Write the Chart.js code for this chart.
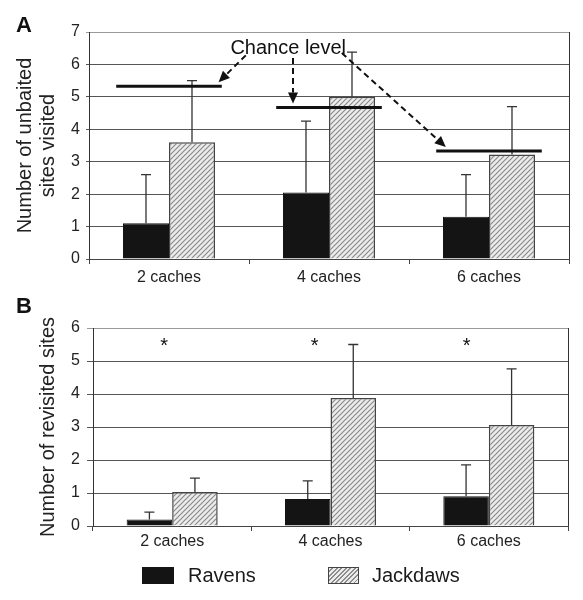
<!DOCTYPE html>
<html>
<head>
<meta charset="utf-8">
<script src="https://cdn.jsdelivr.net/npm/chart.js@4/dist/chart.umd.min.js"></script>
<style>
  body { margin: 0; background: #fff; font-family: 'Liberation Sans', Arial, sans-serif; }
  #wrap { position: relative; width: 583px; height: 600px; }
  .panel { position: absolute; left: 0; width: 583px; }
  #boxA { top: 0; height: 300px; }
  #boxB { top: 290px; height: 270px; }
  .lg { position: absolute; top: 567px; height: 17px; }
  .lgTxt { position: absolute; top: 564px; font-size: 20px; line-height: 23px; color: #1a1a1a; }
  #swR { left: 142px; width: 32px; background: #141414; }
  #swJ { left: 328px; width: 29px; height: 15px; border: 1px solid #444;
         background: repeating-linear-gradient(135deg, #ececec 0 2px, #8c8c8c 2px 3.2px); }
</style>
</head>
<body>
<div id="wrap">
  <div class="panel" id="boxA"><canvas id="chartA"></canvas></div>
  <div class="panel" id="boxB"><canvas id="chartB"></canvas></div>
  <div class="lg" id="swR"></div><div class="lgTxt" style="left:188px">Ravens</div>
  <div class="lg" id="swJ"></div><div class="lgTxt" style="left:372px">Jackdaws</div>
</div>
<script>
// --- dados ---
const categories = ['2 caches', '4 caches', '6 caches'];

// Painel A: locais sem isca visitados (média e barra de erro acima)
const ravensA = [1.1, 2.05, 1.3];
const ravensAErr = [1.5, 2.2, 1.3];
const jackdawsA = [3.6, 5.0, 3.22];
const jackdawsAErr = [1.9, 1.38, 1.48];
const chanceA = [5.33, 4.67, 3.33];

// Painel B: locais revisitados
const ravensB = [0.2, 0.82, 0.9];
const ravensBErr = [0.22, 0.55, 0.95];
const jackdawsB = [1.03, 3.88, 3.06];
const jackdawsBErr = [0.42, 1.62, 1.7];
const starsB = ['*', '*', '*'];

const yTicksA = [0, 1, 2, 3, 4, 5, 6, 7];
const yTicksB = [0, 1, 2, 3, 4, 5, 6];

const FONT = "'Liberation Sans', Arial, sans-serif";
Chart.defaults.font.family = FONT;
Chart.defaults.color = '#222';
Chart.defaults.animation = false;
Chart.defaults.maintainAspectRatio = false;

// padrão hachurado dos jackdaws
function makeHatch() {
    const c = document.createElement('canvas');
    c.width = 5; c.height = 5;
    const g = c.getContext('2d');
    g.fillStyle = '#ececec';
    g.fillRect(0, 0, 5, 5);
    g.strokeStyle = '#8a8a8a';
    g.lineWidth = 1.2;
    g.beginPath();
    g.moveTo(-1, 6); g.lineTo(6, -1);
    g.moveTo(-1, 1); g.lineTo(1, -1);
    g.moveTo(4, 6); g.lineTo(6, 4);
    g.stroke();
    return g.createPattern(c, 'repeat');
}
const hatch = makeHatch();

// barras de erro (só para cima)
const errorBars = {
    id: 'errorBars',
    afterDatasetsDraw(chart) {
        const ctx = chart.ctx, y = chart.scales.y;
        ctx.save();
        ctx.strokeStyle = '#333';
        ctx.lineWidth = 1.3;
        chart.data.datasets.forEach((ds, di) => {
            if (!ds.errors) return;
            chart.getDatasetMeta(di).data.forEach((bar, i) => {
                const top = y.getPixelForValue(ds.data[i] + ds.errors[i]);
                ctx.beginPath();
                ctx.moveTo(bar.x, bar.y);
                ctx.lineTo(bar.x, top);
                ctx.moveTo(bar.x - 5, top);
                ctx.lineTo(bar.x + 5, top);
                ctx.stroke();
            });
        });
        ctx.restore();
    }
};

// moldura direita + letra do painel
const frame = {
    id: 'frame',
    beforeDatasetsDraw(chart, args, opts) {
        const {ctx, chartArea: a} = chart;
        ctx.save();
        ctx.strokeStyle = '#333';
        ctx.lineWidth = 1;
        ctx.beginPath();
        ctx.moveTo(a.right + 0.5, a.top);
        ctx.lineTo(a.right + 0.5, a.bottom);
        ctx.stroke();
        ctx.restore();
    },
    afterDraw(chart, args, opts) {
        const ctx = chart.ctx;
        ctx.save();
        ctx.font = 'bold 22px ' + FONT;
        ctx.fillStyle = '#111';
        ctx.textBaseline = 'alphabetic';
        ctx.fillText(opts.letter, 16, opts.letterY);
        ctx.restore();
    }
};

function arrowTo(ctx, x0, y0, x1, y1) {
    const ang = Math.atan2(y1 - y0, x1 - x0);
    const L = 11, W = 5;
    const bx = x1 - L * Math.cos(ang), by = y1 - L * Math.sin(ang);
    ctx.setLineDash([6, 4]);
    ctx.beginPath();
    ctx.moveTo(x0, y0);
    ctx.lineTo(bx, by);
    ctx.stroke();
    ctx.setLineDash([]);
    ctx.beginPath();
    ctx.moveTo(x1, y1);
    ctx.lineTo(bx - W * Math.sin(ang), by + W * Math.cos(ang));
    ctx.lineTo(bx + W * Math.sin(ang), by - W * Math.cos(ang));
    ctx.closePath();
    ctx.fill();
}

// nível de acaso + setas (painel A)
const chanceLevel = {
    id: 'chanceLevel',
    afterDatasetsDraw(chart, args, opts) {
        const ctx = chart.ctx, x = chart.scales.x, y = chart.scales.y;
        ctx.save();
        ctx.strokeStyle = '#111';
        ctx.fillStyle = '#111';
        ctx.lineWidth = 3;
        opts.values.forEach((v, i) => {
            ctx.beginPath();
            ctx.moveTo(x.getPixelForValue(i - opts.half), y.getPixelForValue(v));
            ctx.lineTo(x.getPixelForValue(i + opts.half), y.getPixelForValue(v));
            ctx.stroke();
        });
        ctx.lineWidth = 2;
        opts.arrows.forEach(a => {
            arrowTo(ctx,
                x.getPixelForValue(a.from[0]), y.getPixelForValue(a.from[1]),
                x.getPixelForValue(a.to), y.getPixelForValue(opts.values[a.line]) - 4);
        });
        ctx.font = '20px ' + FONT;
        ctx.textAlign = 'center';
        ctx.textBaseline = 'middle';
        ctx.fillStyle = '#111';
        ctx.fillText(opts.label, x.getPixelForValue(opts.labelAt[0]), y.getPixelForValue(opts.labelAt[1]));
        ctx.restore();
    }
};

// asteriscos (painel B)
const stars = {
    id: 'stars',
    afterDatasetsDraw(chart, args, opts) {
        const ctx = chart.ctx, x = chart.scales.x, y = chart.scales.y;
        ctx.save();
        ctx.font = '20px ' + FONT;
        ctx.textAlign = 'center';
        ctx.textBaseline = 'middle';
        ctx.fillStyle = '#111';
        opts.marks.forEach((m, i) => {
            ctx.fillText(m, x.getPixelForValue(i + opts.dx[i]), y.getPixelForValue(opts.y) + 4);
        });
        ctx.restore();
    }
};

function barChart(id, cfg) {
    return new Chart(document.getElementById(id).getContext('2d'), {
        type: 'bar',
        data: {
            labels: categories,
            datasets: [
                { label: 'Ravens', data: cfg.ravens, errors: cfg.ravensErr, backgroundColor: '#141414',
                  borderColor: '#141414', borderWidth: 1 },
                { label: 'Jackdaws', data: cfg.jackdaws, errors: cfg.jackdawsErr, backgroundColor: hatch,
                  borderColor: '#444', borderWidth: 1.5 }
            ]
        },
        options: {
            responsive: true,
            categoryPercentage: 0.575,
            barPercentage: 1,
            layout: { padding: cfg.padding },
            plugins: Object.assign({
                legend: { display: false },
                tooltip: { enabled: false },
                frame: { letter: cfg.letter, letterY: cfg.letterY }
            }, cfg.plugins),
            scales: {
                x: {
                    grid: { drawOnChartArea: false, offset: true, tickLength: 5, color: '#444' },
                    border: { color: '#444' },
                    ticks: { font: { size: 16 }, color: '#222', padding: cfg.xPad },
                    afterFit: s => { s.height = 30; }
                },
                y: {
                    min: 0,
                    max: cfg.yTicks[cfg.yTicks.length - 1],
                    afterBuildTicks: s => { s.ticks = cfg.yTicks.map(v => ({ value: v })); },
                    grid: {
                        color: c => c.tick && c.tick.value === cfg.yTicks[cfg.yTicks.length - 1] ? '#9a9a9a' : '#555',
                        tickLength: cfg.yTick
                    },
                    border: { color: '#333' },
                    ticks: { font: { size: 16 }, color: '#222', padding: cfg.yPad },
                    title: {
                        display: true,
                        text: cfg.yTitle,
                        font: { size: 20, lineHeight: 1.15 },
                        color: '#222',
                        padding: { top: cfg.titlePad, bottom: 0 }
                    },
                    afterFit: s => { s.width = cfg.axisW; }
                }
            }
        },
        plugins: cfg.extra
    });
}

barChart('chartA', {
    ravens: ravensA, ravensErr: ravensAErr,
    jackdaws: jackdawsA, jackdawsErr: jackdawsAErr,
    yTicks: yTicksA, yTitle: ['Number of unbaited', 'sites visited'],
    padding: { top: 32, right: 14, bottom: 11, left: 0 },
    axisW: 89, titlePad: 13.5, yTick: 3, yPad: 6, xPad: 4,
    letter: 'A', letterY: 32,
    plugins: {
        chanceLevel: {
            values: chanceA, half: 0.33,
            label: 'Chance level', labelAt: [0.745, 6.5],
            arrows: [
                { from: [0.48, 6.28], to: 0.31, line: 0 },
                { from: [0.775, 6.2], to: 0.775, line: 1 },
                { from: [1.08, 6.35], to: 1.73, line: 2 }
            ]
        }
    },
    extra: [errorBars, frame, chanceLevel]
});

barChart('chartB', {
    ravens: ravensB, ravensErr: ravensBErr,
    jackdaws: jackdawsB, jackdawsErr: jackdawsBErr,
    yTicks: yTicksB, yTitle: 'Number of revisited sites',
    padding: { top: 38, right: 15, bottom: 4, left: 0 },
    axisW: 93, titlePad: 36.5, yTick: 6, yPad: 7, xPad: 1,
    letter: 'B', letterY: 23,
    plugins: {
        stars: { marks: starsB, dx: [-0.05, -0.1, -0.14], y: 5.55 }
    },
    extra: [errorBars, frame, stars]
});
</script>
</body>
</html>
